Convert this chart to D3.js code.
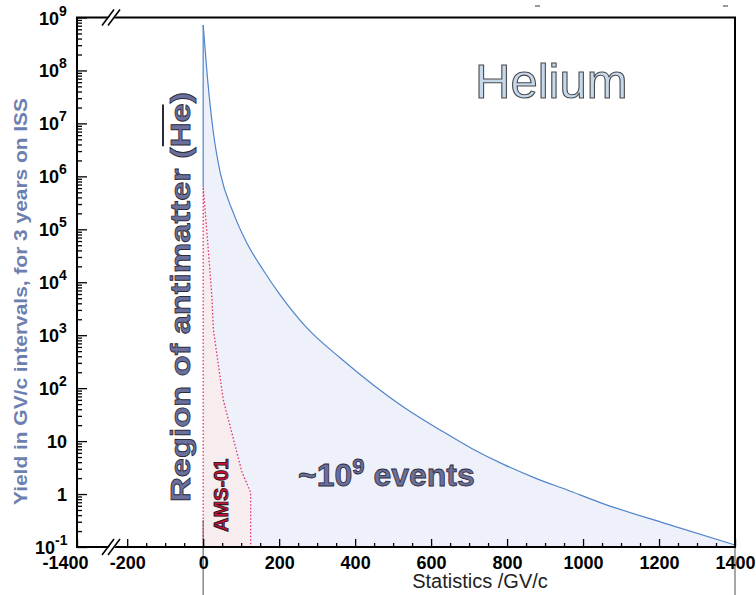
<!DOCTYPE html>
<html>
<head>
<meta charset="utf-8">
<script src="https://cdn.jsdelivr.net/npm/d3@7"></script>
<style>
  body { margin: 0; background: #fff; }
  svg { font-family: "Liberation Sans", Arial, sans-serif; }
</style>
</head>
<body>
<div id="chart"></div>
<script>
// data
var heliumX = [0, 11, 16, 27, 45, 80, 115, 158, 203, 273, 361, 448, 536, 624, 708, 792, 876, 960, 1045, 1222, 1400];
var heliumY = [7.2e8, 7.6e7, 3.2e7, 6.6e6, 1.16e6, 2.0e5, 5.5e4, 1.7e4, 5.7e3, 1.37e3, 371, 115, 40, 16.2, 7.2, 3.6, 1.98, 1.18, 0.69, 0.27, 0.109];

var amsX = [0, 3, 10, 17, 23, 27, 53, 80, 102, 125];
var amsY = [6.3e5, 3.5e5, 8.5e4, 1.95e4, 5.2e3, 1.26e3, 60, 10.7, 2.6, 1.07];

var xTicks = [-1400, -200, 0, 200, 400, 600, 800, 1000, 1200, 1400];
var yTicks = [0.1, 1, 10, 1e2, 1e3, 1e4, 1e5, 1e6, 1e7, 1e8, 1e9];
var yTickBase = ["10", "1", "10", "10", "10", "10", "10", "10", "10", "10", "10"];
var yTickExp = ["-1", "", "", "2", "3", "4", "5", "6", "7", "8", "9"];

var svgWidth = 756, svgHeight = 595;
var plotLeft = 77, plotRight = 735, plotTop = 17.5, plotBottom = 547;

var svg = d3.select("#chart")
    .append("svg")
    .attr("width", svgWidth)
    .attr("height", svgHeight);

// broken x axis: -1400 squeezed in before the break
var x = d3.scaleLinear()
    .domain([-1400, -240, 1400])
    .range([plotLeft, 112, plotRight]);

var y = d3.scaleLog()
    .domain([0.1, 1e9])
    .range([plotBottom, plotTop]);

var helium = heliumX.map((d, i) => [d, heliumY[i]]);
var ams = amsX.map((d, i) => [d, amsY[i]]);

// fills
var heArea = d3.area()
    .x(d => x(d[0]))
    .y0(y(0.1))
    .y1(d => y(d[1]))
    .curve(d3.curveMonotoneX);

svg.append("path")
    .attr("d", heArea(helium))
    .attr("fill", "#eff1fa");

var amsArea = d3.area()
    .x(d => x(d[0]))
    .y0(y(0.1))
    .y1(d => y(d[1]));

svg.append("path")
    .attr("d", amsArea(ams.concat([[amsX[amsX.length - 1], 0.1]])))
    .attr("fill", "#f7ecee");

// grey markers at 0 and 1400
[0, 1400].forEach(function(v) {
    svg.append("line")
        .attr("x1", x(v)).attr("x2", x(v))
        .attr("y1", 520).attr("y2", svgHeight)
        .attr("stroke", "#8a8a8a")
        .attr("stroke-width", 1.5);
});

// helium curve
var heLine = d3.line()
    .x(d => x(d[0]))
    .y(d => y(d[1]))
    .curve(d3.curveMonotoneX);

svg.append("line")
    .attr("x1", x(0)).attr("x2", x(0))
    .attr("y1", y(heliumY[0])).attr("y2", y(amsY[0]))
    .attr("stroke", "#4f84cc")
    .attr("stroke-width", 1.2);

svg.append("path")
    .attr("d", heLine(helium))
    .attr("fill", "none")
    .attr("stroke", "#4f84cc")
    .attr("stroke-width", 1.2);

// AMS-01 dotted outline
var amsLine = d3.line()
    .x(d => x(d[0]))
    .y(d => y(d[1]));

svg.append("path")
    .attr("d", amsLine([[0, 0.1]].concat(ams).concat([[amsX[amsX.length - 1], 0.1]])))
    .attr("fill", "none")
    .attr("stroke", "#e2306c")
    .attr("stroke-width", 1.3)
    .attr("stroke-dasharray", "1.5,2");

// texts
svg.append("text")
    .attr("x", 475)
    .attr("y", 98)
    .attr("font-size", "49px")
    .attr("fill", "#c6d9ec")
    .attr("stroke", "#4a4a4a")
    .attr("stroke-width", 1.1)
    .text("Helium");

var ev = svg.append("text")
    .attr("x", 298)
    .attr("y", 486)
    .attr("font-size", "32px")
    .attr("font-weight", "bold")
    .attr("fill", "#6b6f9c")
    .attr("stroke", "#2a2a3a")
    .attr("stroke-width", 0.8);
ev.append("tspan").text("~10");
ev.append("tspan").attr("dy", -12).attr("font-size", "22px").text("9");
ev.append("tspan").attr("dy", 12).text(" events");

svg.append("text")
    .attr("transform", "translate(228, 532) rotate(-90)")
    .attr("font-size", "20px")
    .attr("font-weight", "bold")
    .attr("fill", "#d0103a")
    .attr("stroke", "#111")
    .attr("stroke-width", 0.8)
    .text("AMS-01");

var regG = svg.append("g")
    .attr("transform", "translate(190, 502) rotate(-90)");
var regStr = "Region of antimatter (He)";
var reg = regG.append("text")
    .attr("font-size", "28px")
    .attr("font-weight", "bold")
    .attr("fill", "#6b6f9c")
    .attr("stroke", "#2a2a3a")
    .attr("stroke-width", 0.8)
    .attr("textLength", 410)
    .attr("lengthAdjust", "spacingAndGlyphs")
    .text(regStr);

// bar over "He"
var hi = regStr.indexOf("He");
var hs = reg.node().getStartPositionOfChar(hi).x;
var he = reg.node().getEndPositionOfChar(hi + 1).x;
regG.append("line")
    .attr("x1", hs + 1).attr("x2", he - 1)
    .attr("y1", -27).attr("y2", -27)
    .attr("stroke", "#2a2a3a")
    .attr("stroke-width", 2);

svg.append("text")
    .attr("transform", "translate(27, 505) rotate(-90)")
    .attr("font-size", "19px")
    .attr("font-weight", "bold")
    .attr("fill", "#6d7fb0")
    .attr("textLength", 407)
    .attr("lengthAdjust", "spacingAndGlyphs")
    .text("Yield in GV/c intervals, for 3 years on ISS");

svg.append("text")
    .attr("x", 480)
    .attr("y", 588)
    .attr("text-anchor", "middle")
    .attr("font-size", "20px")
    .attr("fill", "#222")
    .text("Statistics /GV/c");

// axes
var xAxis = d3.axisBottom(x)
    .tickValues(xTicks)
    .tickSizeInner(-8)
    .tickSizeOuter(0)
    .tickPadding(9)
    .tickFormat(d => String(d));

var gx = svg.append("g")
    .attr("transform", `translate(0, ${plotBottom})`)
    .call(xAxis);
gx.selectAll("text")
    .attr("font-size", "18px")
    .attr("font-weight", "bold")
    .attr("font-family", "Liberation Sans, Arial, sans-serif")
    .attr("fill", "#000")
    .attr("dx", d => d == -1400 ? -12 : 0);

var xMinor = d3.range(-200, 1401, 50).filter(d => d % 200 != 0);
var gxm = svg.append("g")
    .attr("transform", `translate(0, ${plotBottom})`)
    .call(d3.axisBottom(x).tickValues(xMinor).tickSizeInner(-4).tickSizeOuter(0).tickFormat(""));

var yAxis = d3.axisLeft(y)
    .tickValues(yTicks)
    .tickSizeInner(-10)
    .tickSizeOuter(0)
    .tickFormat("");

var gy = svg.append("g")
    .attr("transform", `translate(${plotLeft}, 0)`)
    .call(yAxis);

var yMinor = [];
yTicks.slice(0, -1).forEach(function(t) {
    for (var k = 2; k < 10; k++) yMinor.push(t * k);
});
var gym = svg.append("g")
    .attr("transform", `translate(${plotLeft}, 0)`)
    .call(d3.axisLeft(y).tickValues(yMinor).tickSizeInner(-5).tickSizeOuter(0).tickFormat(""));

[gx, gxm, gy, gym].forEach(function(g) {
    g.select(".domain").remove();
    g.selectAll("line").attr("stroke", "#000").attr("stroke-width", 1.3);
});

// y labels with exponents
yTicks.forEach(function(t, i) {
    var lab = svg.append("text")
        .attr("y", y(t) + 7)
        .attr("font-size", "18px")
        .attr("font-weight", "bold")
        .attr("fill", "#000");
    if (yTickExp[i] == "") {
        lab.attr("x", 67).attr("text-anchor", "end").text(yTickBase[i]);
    } else {
        lab.attr("x", i == 0 ? 35 : 39);
        lab.append("tspan").text(yTickBase[i]);
        lab.append("tspan").attr("dy", -9).attr("font-size", "14px").text(yTickExp[i]);
    }
});

// frame
svg.append("rect")
    .attr("x", plotLeft)
    .attr("y", plotTop)
    .attr("width", plotRight - plotLeft)
    .attr("height", plotBottom - plotTop)
    .attr("fill", "none")
    .attr("stroke", "#000")
    .attr("stroke-width", 2);

// axis break marks
[plotTop, plotBottom].forEach(function(yy) {
    var cx = 112;
    svg.append("polygon")
        .attr("points", `${cx - 9},${yy + 7} ${cx - 3},${yy + 7} ${cx + 9},${yy - 7} ${cx + 3},${yy - 7}`)
        .attr("fill", "#fff");
    [-6, 0].forEach(function(o) {
        svg.append("line")
            .attr("x1", cx + o - 4).attr("y1", yy + 8)
            .attr("x2", cx + o + 8).attr("y2", yy - 8)
            .attr("stroke", "#000")
            .attr("stroke-width", 1.6);
    });
});

// little dashes above the frame
[535, 723].forEach(function(xx) {
    svg.append("line")
        .attr("x1", xx).attr("x2", xx + 5)
        .attr("y1", 6).attr("y2", 6)
        .attr("stroke", "#333")
        .attr("stroke-width", 1);
});
</script>
</body>
</html>
